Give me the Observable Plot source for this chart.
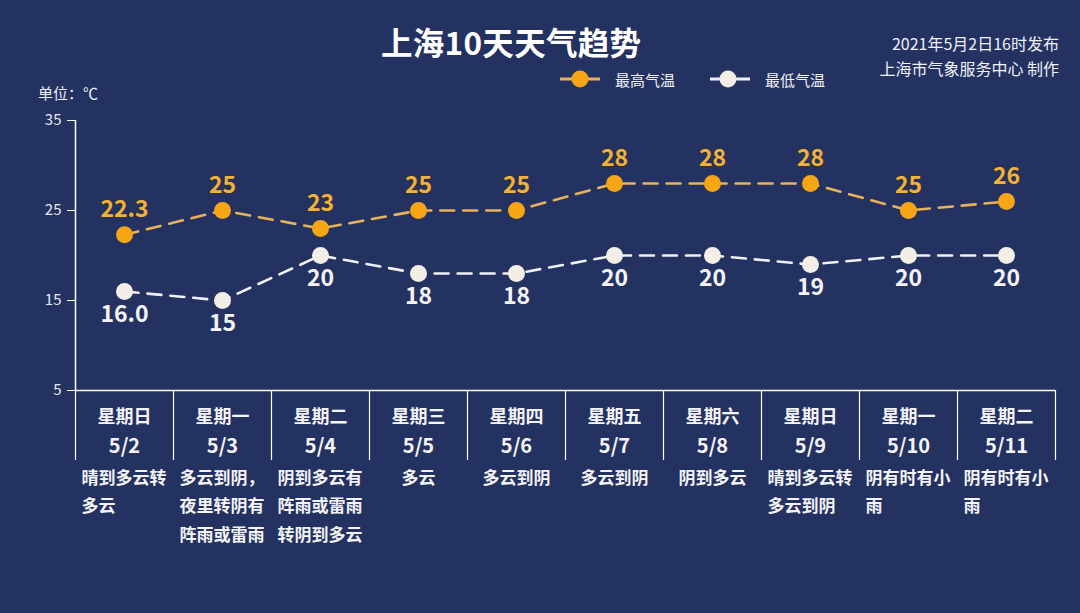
<!DOCTYPE html>
<html><head><meta charset="utf-8">
<script src="https://cdn.jsdelivr.net/npm/d3@7"></script>
<script src="https://cdn.jsdelivr.net/npm/@observablehq/plot@0.6"></script>
<style>
html,body{margin:0;padding:0;background:#243262;}
#wrap{position:relative;width:1080px;height:613px;background:#243262;font-family:"Noto Sans CJK SC","Noto Sans",sans-serif;color:#fff;overflow:hidden;}
#wrap svg{position:absolute;left:0;top:0;}
.abs{position:absolute;white-space:nowrap;}
#title{left:381px;top:19px;font-size:31.5px;font-weight:bold;letter-spacing:0.3px;line-height:44px;}
#pub{right:21px;top:31px;font-size:16px;line-height:25px;text-align:right;color:#eef0f6;}
#unit{left:38px;top:82px;font-size:15px;color:#eef0f6;}
.leg{top:68px;font-size:15px;color:#f2f2f2;display:flex;align-items:center;}
.leg svg{position:static!important;margin-right:14px;}
</style></head>
<body><div id="wrap">
<div id="title" class="abs">上海10天天气趋势</div>
<div id="pub" class="abs">2021年5月2日16时发布<br>上海市气象服务中心 制作</div>
<div id="unit" class="abs">单位：℃</div>
<div id="legHi" class="abs leg" style="left:560px"><svg width="41" height="22"><line x1="0" y1="11" x2="40" y2="11" stroke="#e8b25a" stroke-width="3"/><circle cx="20" cy="11" r="8.5" fill="#f6a614"/></svg>最高气温</div>
<div id="legLo" class="abs leg" style="left:710px"><svg width="41" height="22"><line x1="0" y1="11" x2="40" y2="11" stroke="#f0f0f5" stroke-width="3"/><circle cx="18" cy="11" r="8.5" fill="#f3efe6"/></svg>最低气温</div>
</div>
<script>
const days = ["星期日","星期一","星期二","星期三","星期四","星期五","星期六","星期日","星期一","星期二"];
const dates = ["5/2","5/3","5/4","5/5","5/6","5/7","5/8","5/9","5/10","5/11"];
const weather = ["晴到多云转\n多云","多云到阴，\n夜里转阴有\n阵雨或雷雨","阴到多云有\n阵雨或雷雨\n转阴到多云","多云","多云到阴","多云到阴","阴到多云","晴到多云转\n多云到阴","阴有时有小\n雨","阴有时有小\n雨"];
const highs = [22.3,25,23,25,25,28,28,28,25,26];
const highLabels = ["22.3","25","23","25","25","28","28","28","25","26"];
const lows = [16.0,15,20,18,18,20,20,19,20,20];
const lowLabels = ["16.0","15","20","18","18","20","20","19","20","20"];
const yTicks = [5,15,25,35];

const rows = dates.map((d,i)=>({i, x:i+0.5, day:days[i], date:d, weather:weather[i], high:highs[i], low:lows[i], hl:highLabels[i], ll:lowLabels[i]}));
const multi = rows.filter(r=>r.weather.includes("\n"));
const single = rows.filter(r=>!r.weather.includes("\n"));

const ORANGE_LINE="#e8b25a", ORANGE_DOT="#f6a614", ORANGE_TXT="#efb23e";
const WHITE_LINE="#f0f0f5", WHITE_DOT="#f3efe6", WHITE_TXT="#f4f4f6";
const ff = '"Noto Sans CJK SC","Noto Sans",sans-serif';

const chart = Plot.plot({
  width:1080, height:613,
  marginLeft:75, marginRight:25, marginTop:120, marginBottom:223,
  style:{background:"transparent", color:"#ffffff", fontFamily:ff, overflow:"visible"},
  x:{domain:[0,10], axis:null},
  y:{domain:[5,35], axis:null},
  marks:[
    Plot.axisY({ticks:yTicks, tickSize:8, tickPadding:6, fontSize:15, color:"#e6e9f2", stroke:"#ffffff", label:null}),
    Plot.axisX({ticks:d3.range(11), tickSize:70, tickFormat:()=>"", stroke:"#ffffff", strokeWidth:1.2, label:null}),
    Plot.ruleY([5], {stroke:"#ffffff", strokeWidth:1.5}),
    Plot.ruleX([0], {stroke:"#ffffff", strokeWidth:1.5}),
    Plot.line(rows, {x:"x", y:"high", stroke:ORANGE_LINE, strokeWidth:2.6, strokeDasharray:"14,9"}),
    Plot.line(rows, {x:"x", y:"low", stroke:WHITE_LINE, strokeWidth:2.6, strokeDasharray:"14,9"}),
    Plot.dot(rows, {x:"x", y:"high", r:8.5, fill:ORANGE_DOT, stroke:"none"}),
    Plot.dot(rows, {x:"x", y:"low", r:8.5, fill:WHITE_DOT, stroke:"none"}),
    Plot.text(rows, {x:"x", y:"high", text:"hl", dy:-25, fontSize:23, fontWeight:"bold", fill:ORANGE_TXT, stroke:"#3a3020", strokeWidth:2, strokeOpacity:0.5}),
    Plot.text(rows, {x:"x", y:"low", text:"ll", dy:23, fontSize:23, fontWeight:"bold", fill:WHITE_TXT}),
    Plot.text(rows, {x:"x", frameAnchor:"bottom", dy:32, text:"day", fontSize:18, fontWeight:"bold", fill:"#f4f4f6"}),
    Plot.text(rows, {x:"x", frameAnchor:"bottom", dy:62, text:"date", fontSize:20, fontWeight:"bold", fill:"#f4f4f6"}),
    Plot.text(multi, {x:"x", frameAnchor:"bottom", dy:73, dx:-43, textAnchor:"start", lineAnchor:"top", lineHeight:1.68, text:"weather", fontSize:17, fontWeight:"bold", fill:"#f4f4f6"}),
    Plot.text(single, {x:"x", frameAnchor:"bottom", dy:73, lineAnchor:"top", lineHeight:1.68, text:"weather", fontSize:17, fontWeight:"bold", fill:"#f4f4f6"})
  ]
});
document.getElementById("wrap").appendChild(chart);
</script>
</body></html>
